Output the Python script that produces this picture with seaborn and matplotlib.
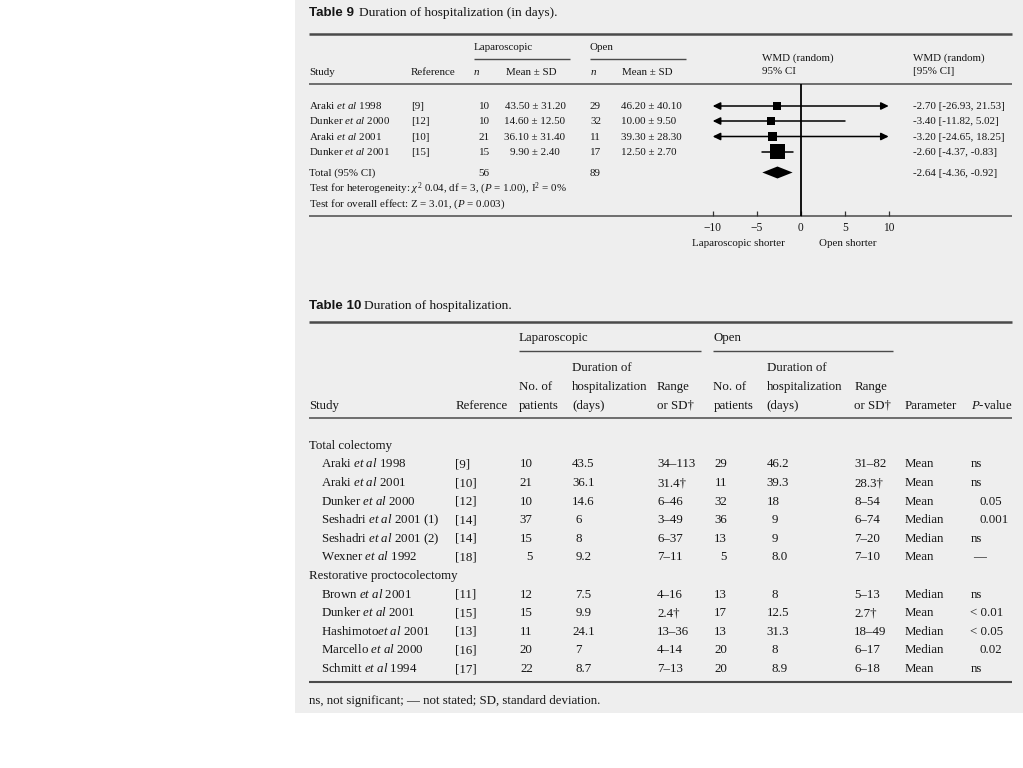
import matplotlib
matplotlib.use("Agg")
import matplotlib.pyplot as plt
import seaborn as sns
import pandas as pd
from matplotlib.patches import Rectangle

# ---------------- data: Table 9 (meta-analysis) ----------------
t9_study = ["Araki et al 1998", "Dunker et al 2000", "Araki et al 2001", "Dunker et al 2001"]
t9_ref = ["[9]", "[12]", "[10]", "[15]"]
t9_lap_n = [10, 10, 21, 15]
t9_lap_mean = [43.50, 14.60, 36.10, 9.90]
t9_lap_sd = [31.20, 12.50, 31.40, 2.40]
t9_open_n = [29, 32, 11, 17]
t9_open_mean = [46.20, 10.00, 39.30, 12.50]
t9_open_sd = [40.10, 9.50, 28.30, 2.70]
t9_wmd = [-2.70, -3.40, -3.20, -2.60]
t9_ci_lo = [-26.93, -11.82, -24.65, -4.37]
t9_ci_hi = [21.53, 5.02, 18.25, -0.83]
t9_weight = [1.5, 4.5, 1.9, 92.1]
t9_total_lap_n = 56
t9_total_open_n = 89
t9_total_wmd = -2.64
t9_total_lo = -4.36
t9_total_hi = -0.92
axis_ticks = [-10, -5, 0, 5, 10]
axis_ticklabels = ["\u221210", "\u22125", "0", "5", "10"]

# ---------------- data: Table 10 ----------------
t10_groups = ["Total colectomy", "Restorative proctocolectomy"]
t10_group = [0, 0, 0, 0, 0, 0, 1, 1, 1, 1, 1]
t10_study = ["Araki et al 1998", "Araki et al 2001", "Dunker et al 2000",
             "Seshadri et al 2001 (1)", "Seshadri et al 2001 (2)", "Wexner et al 1992",
             "Brown et al 2001", "Dunker et al 2001", "Hashimotoet al 2001",
             "Marcello et al 2000", "Schmitt et al 1994"]
t10_ref = ["[9]", "[10]", "[12]", "[14]", "[14]", "[18]", "[11]", "[15]", "[13]", "[16]", "[17]"]
t10_lap_n = [10, 21, 10, 37, 15, 5, 12, 15, 11, 20, 22]
t10_lap_dur = ["43.5", "36.1", "14.6", "6", "8", "9.2", "7.5", "9.9", "24.1", "7", "8.7"]
t10_lap_range = ["34\u2013113", "31.4\u2020", "6\u201346", "3\u201349", "6\u201337", "7\u201311",
                 "4\u201316", "2.4\u2020", "13\u201336", "4\u201314", "7\u201313"]
t10_open_n = [29, 11, 32, 36, 13, 5, 13, 17, 13, 20, 20]
t10_open_dur = ["46.2", "39.3", "18", "9", "9", "8.0", "8", "12.5", "31.3", "8", "8.9"]
t10_open_range = ["31\u201382", "28.3\u2020", "8\u201354", "6\u201374", "7\u201320", "7\u201310",
                  "5\u201313", "2.7\u2020", "18\u201349", "6\u201317", "6\u201318"]
t10_param = ["Mean", "Mean", "Mean", "Median", "Median", "Mean",
             "Median", "Mean", "Median", "Median", "Mean"]
t10_p = ["ns", "ns", "0.05", "0.001", "ns", "\u2014", "ns", "< 0.01", "< 0.05", "0.02", "ns"]

# ---------------- style ----------------
sns.set_style("white")
plt.rcParams.update({
    "font.family": ["Liberation Serif", "DejaVu Serif"],
    "mathtext.fontset": "custom",
    "mathtext.rm": "Liberation Serif",
    "mathtext.it": "Liberation Serif:italic",
    "mathtext.bf": "Liberation Serif:bold",
})
TXT = "#161616"
RULE = "#4a4a4a"
PANEL = "#eeeeee"
S9 = 7.9
S10 = 9.3
ST = 9.6


def ital(s):
    return s.replace("et al", r"$\mathit{et\ al}$")


fig = plt.figure(figsize=(10.23, 7.68), dpi=100)
fig.patch.set_facecolor("white")
ax = fig.add_axes([0, 0, 1, 1])
ax.set_xlim(0, 1023)
ax.set_ylim(768, 0)
ax.axis("off")
ax.add_patch(Rectangle((295, 0), 728, 713, facecolor=PANEL, edgecolor="none", zorder=0))


def T(x, y, s, size, ha="left", **kw):
    off = 0.30 * size * 100 / 72
    ax.text(x, y + off, s, fontsize=size, ha=ha, va="baseline", color=TXT, **kw)


def rule(x0, x1, y, lw):
    ax.plot([x0, x1], [y, y], color=RULE, lw=lw, solid_capstyle="butt", zorder=2)


# ================= Table 9 =================
ax.text(309, 12 + 4, "Table 9", fontsize=ST, fontweight="bold", family="Liberation Sans",
        ha="left", va="baseline", color=TXT)
T(359, 12, "Duration of hospitalization (in days).", ST)
rule(309, 1012, 33.5, 1.8)
T(474, 47, "Laparoscopic", S9)
T(590, 47, "Open", S9)
rule(474, 570, 59.3, 1.0)
rule(590, 686, 59.3, 1.0)
T(762, 57, "WMD (random)", S9)
T(762, 71, "95% CI", S9)
T(913, 57, "WMD (random)", S9)
T(913, 71, "[95% CI]", S9)
T(309, 72, "Study", S9)
T(411, 72, "Reference", S9)
T(473, 72, r"$n$", S9)
T(506, 72, "Mean \u00b1 SD", S9)
T(590, 72, r"$n$", S9)
T(622, 72, "Mean \u00b1 SD", S9)
rule(309, 1012, 84, 1.1)

row_y9 = [106, 121, 136.5, 151.5]
total_y9 = 172.5
for i in range(len(t9_study)):
    y = row_y9[i]
    T(309, y, ital(t9_study[i]), S9)
    T(411, y, t9_ref[i], S9)
    T(478.7, y, str(t9_lap_n[i]), S9)
    T(535, y, f"{t9_lap_mean[i]:.2f} \u00b1 {t9_lap_sd[i]:.2f}", S9, ha="center")
    T(590, y, str(t9_open_n[i]), S9)
    T(621, y, f"{t9_open_mean[i]:.2f} \u00b1 {t9_open_sd[i]:.2f}", S9)
    T(913, y, f"{t9_wmd[i]:.2f} [{t9_ci_lo[i]:.2f}, {t9_ci_hi[i]:.2f}]", S9)
T(309, total_y9, "Total (95% CI)", S9)
T(478.7, total_y9, str(t9_total_lap_n), S9)
T(590, total_y9, str(t9_total_open_n), S9)
T(913, total_y9, f"{t9_total_wmd:.2f} [{t9_total_lo:.2f}, {t9_total_hi:.2f}]", S9)
T(309, 188.3, r"Test for heterogeneity: $\chi^2$ 0.04, df = 3, ($P$ = 1.00), I$^2$ = 0%", S9)
T(309, 203.3, r"Test for overall effect: Z = 3.01, ($P$ = 0.003)", S9)
rule(309, 1012, 216, 1.1)
T(738, 243, "Laparoscopic shorter", S9, ha="center")
T(848, 243, "Open shorter", S9, ha="center")

# ----- forest plot axes (x in WMD units, y in pixel rows) -----
PPU = 8.8
X0 = 800.7
L, R, TOP, BOT = 700, 905, 84, 216
fax = fig.add_axes([L / 1023, 1 - BOT / 768, (R - L) / 1023, (BOT - TOP) / 768])
fax.patch.set_alpha(0)
for sp in fax.spines.values():
    sp.set_visible(False)

fax.axvline(0, color="black", lw=1.3, zorder=1)

arrow_kw = dict(arrowstyle="-|>,head_length=0.45,head_width=0.22", color="black",
                lw=1.1, shrinkA=0, shrinkB=0, mutation_scale=10)
for i in range(len(t9_wmd)):
    y = row_y9[i]
    c = t9_wmd[i]
    lo, hi = t9_ci_lo[i], t9_ci_hi[i]
    if lo < -10:
        fax.annotate("", xy=(-10, y), xytext=(c, y), arrowprops=arrow_kw)
    else:
        fax.plot([lo, c], [y, y], color="black", lw=1.1)
    if hi > 10:
        fax.annotate("", xy=(10, y), xytext=(c, y), arrowprops=arrow_kw)
    else:
        fax.plot([c, hi], [y, y], color="black", lw=1.1)

df9 = pd.DataFrame({"wmd": t9_wmd, "row": row_y9, "w": t9_weight})
sns.scatterplot(data=df9, x="wmd", y="row", size="w", sizes=(34, 112), marker="s",
                color="black", linewidth=0, legend=False, ax=fax, zorder=3)
fax.fill([t9_total_lo, t9_total_wmd, t9_total_hi, t9_total_wmd],
         [total_y9, total_y9 - 6, total_y9, total_y9 + 6], color="black", lw=0, zorder=3)
fax.set_xlabel("")
fax.set_ylabel("")
fax.set_ylim(BOT, TOP)
fax.set_xlim((L - X0) / PPU, (R - X0) / PPU)
fax.set_yticks([])
fax.set_xticks(axis_ticks)
fax.set_xticklabels(axis_ticklabels)
fax.tick_params(axis="x", bottom=True, direction="in", length=3.5, width=0.9,
                color="#333333", pad=4.5, labelsize=8.3, labelcolor=TXT)

# ================= Table 10 =================
ax.text(309, 305 + 4, "Table 10", fontsize=ST, fontweight="bold", family="Liberation Sans",
        ha="left", va="baseline", color=TXT)
T(364, 305, "Duration of hospitalization.", ST)
rule(309, 1012, 321.7, 1.8)
T(519, 336.7, "Laparoscopic", S10)
T(713.3, 336.7, "Open", S10)
rule(519, 701, 351, 1.0)
rule(713, 893, 351, 1.0)
for xc in (572, 766.7):
    T(xc, 366.7, "Duration of", S10)
    T(xc, 385.7, "hospitalization", S10)
    T(xc, 405, "(days)", S10)
for xc in (519, 713.3):
    T(xc, 385.7, "No. of", S10)
    T(xc, 405, "patients", S10)
for xc in (657, 854.3):
    T(xc, 385.7, "Range", S10)
    T(xc, 405, "or SD\u2020", S10)
T(309, 405, "Study", S10)
T(456, 405, "Reference", S10)
T(904.3, 405, "Parameter", S10)
T(971, 405, r"$P$-value", S10)
rule(309, 1012, 418.3, 1.1)

ROW0 = 445
DY = 18.6
line = 0
last_group = None
for i in range(len(t10_study)):
    g = t10_group[i]
    if g != last_group:
        T(309, ROW0 + line * DY, t10_groups[g], S10)
        line += 1
        last_group = g
    y = ROW0 + line * DY
    T(321, y, ital(t10_study[i]), S10)
    T(455, y, t10_ref[i], S10)
    T(532.7, y, str(t10_lap_n[i]), S10, ha="right")
    lint = len(t10_lap_dur[i].split(".")[0])
    T(572 + (2 - lint) * 3.6, y, t10_lap_dur[i], S10)
    T(657, y, t10_lap_range[i], S10)
    T(727, y, str(t10_open_n[i]), S10, ha="right")
    oint = len(t10_open_dur[i].split(".")[0])
    T(766.7 + (2 - oint) * 4.8, y, t10_open_dur[i], S10)
    T(854.3, y, t10_open_range[i], S10)
    T(904.3, y, t10_param[i], S10)
    px = 980 if t10_p[i][0].isdigit() else (973 if t10_p[i] == "\u2014" else 970.5)
    T(px, y, t10_p[i], S10)
    line += 1

rule(309, 1012, 681.7, 1.5)
T(309, 700, "ns, not significant; \u2014 not stated; SD, standard deviation.", S10)

fig.savefig("out.png", dpi=100, facecolor="white")
